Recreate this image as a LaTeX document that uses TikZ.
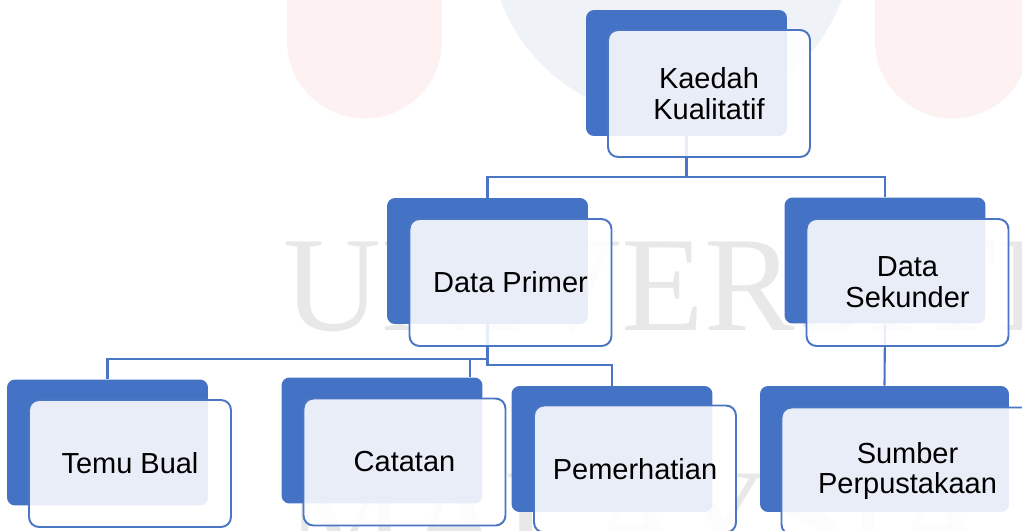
\documentclass[tikz,border=0pt]{standalone}
\usepackage{fontspec}
\setmainfont{Liberation Sans}
\newfontfamily\wmfont{Liberation Serif}
\usetikzlibrary{backgrounds}
\definecolor{boxblue}{HTML}{4472C4}
\definecolor{lineblue}{HTML}{4A76C4}
\definecolor{wmblue}{HTML}{EFF3F8}
\definecolor{wmpink}{HTML}{FDF1F1}
\definecolor{wmgray}{HTML}{E8E8E8}
\pgfdeclarelayer{watermark}
\pgfsetlayers{watermark,background,main}
\begin{document}
\begin{tikzpicture}[x=0.02cm, y=-0.02cm,
    backbox/.style={rectangle, rounded corners=0.16cm, fill=boxblue, minimum width=4.02cm, minimum height=2.52cm, inner sep=0pt},
    frontbox/.style={rectangle, rounded corners=0.2cm, draw=lineblue, line width=1.1pt, fill=white, fill opacity=0.88, text opacity=1, minimum width=4.04cm, minimum height=2.54cm, align=center, font=\fontsize{16.5}{17.5}\selectfont, inner sep=0pt},
    conn/.style={draw=lineblue, line width=1.2pt},
    wmtext/.style={text=wmgray, font=\wmfont\fontsize{77}{77}\selectfont, inner sep=0pt}]
            \useasboundingbox (0,0) rectangle (1022,531);

            \node[backbox] (kaedahB) at (686.5,73) {};
            \node[frontbox] (kaedah) at (709,93.5) {Kaedah\\Kualitatif};

            \node[backbox] (primerB) at (487.5,261) {};
            \node[frontbox] (primer) at (510.5,282.5) {Data Primer};
            \node[backbox] (sekunderB) at (885,260.5) {};
            \node[frontbox] (sekunder) at (907.5,282.5) {Data\\Sekunder};

            \node[backbox] (temuB) at (107.5,442.5) {};
            \node[frontbox] (temu) at (130,463.5) {Temu Bual};
            \node[backbox] (catatanB) at (382,440.5) {};
            \node[frontbox] (catatan) at (404.5,462) {Catatan};
            \node[backbox] (pemerhatianB) at (612,449) {};
            \node[frontbox] (pemerhatian) at (635,469) {Pemerhatian};
            \node[backbox, minimum width=4.98cm] (sumberB) at (884.5,449) {};
            \node[frontbox, minimum width=5.04cm] (sumber) at (907.5,471) {Sumber\\Perpustakaan};

            \begin{scope}[on background layer]
            \coordinate (j1) at (686.5,177);
            \draw[conn] (kaedahB.south) -- (j1) -| (primerB.north);
            \draw[conn] (j1) -| (sekunderB.north);
            \coordinate (j2) at (487.5,359);
            \draw[conn] (primerB.south) -- (j2) -| (temuB.north);
            \coordinate (j3) at (487.5,365);
            \draw[conn] (j2) -- (j3) -| (pemerhatianB.north);
            \coordinate (j4) at (470,359);
            \draw[conn, line width=0.6pt] (j4) -- (j4 |- catatanB.north);
            \draw[conn] (sekunderB.south) -- (sumberB.north);
            \end{scope}

            \begin{pgfonlayer}{watermark}
            \clip (0,0) rectangle (1022,531);
            \fill[wmblue] (671,-60) ellipse [x radius=3.62cm, y radius=3.56cm];
            \fill[wmpink] (287,-10) -- (287,41) arc[start angle=180, end angle=360, radius=1.55cm] -- (442,-10) -- cycle;
            \fill[wmpink] (875,-10) -- (875,41) arc[start angle=180, end angle=360, radius=1.55cm] -- (1030,-10) -- cycle;
            \node[wmtext, anchor=base west] (uni) at (283,330) {UNIVERSITI};
            \node[wmtext, anchor=base west] (mal) at (286,562) {MALAYSIA};
            \end{pgfonlayer}
        \end{tikzpicture}
\end{document}
